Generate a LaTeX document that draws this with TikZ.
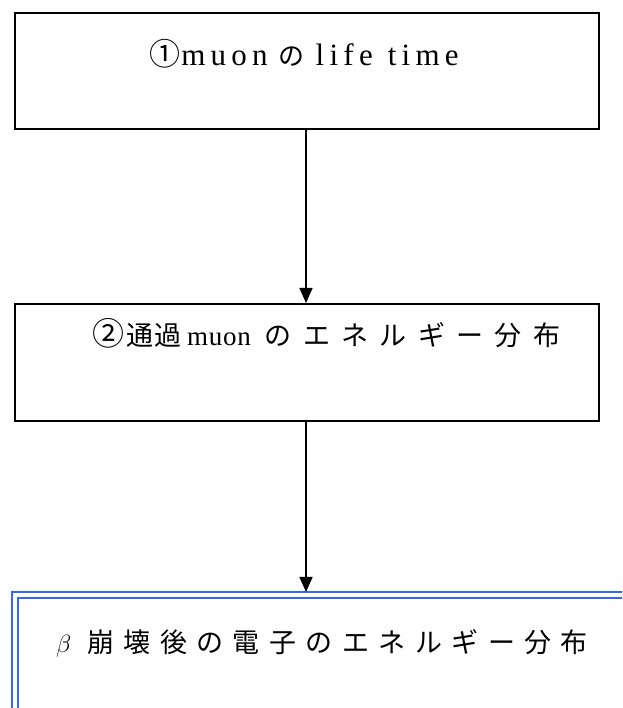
\documentclass[tikz,border=0pt]{standalone}
\usepackage{fontspec}
\setmainfont{Liberation Serif}
\newfontfamily\jp{Noto Sans CJK JP}[LetterSpace=42]
\newfontfamily\jpmid{Noto Sans CJK JP}[LetterSpace=35]
\newfontfamily\jptight{Noto Sans CJK JP}[LetterSpace=5]
\newfontfamily\lat{Liberation Serif}[LetterSpace=17]
\newfontfamily\latn{Liberation Serif}[LetterSpace=3]
\usetikzlibrary{arrows.meta,calc}
\definecolor{boxblue}{RGB}{51,102,255}
\tikzset{
  flowbox/.style={draw=black, line width=1.8pt, minimum width=584pt, minimum height=116pt, inner sep=0pt, anchor=north west},
  finalbox/.style={draw=boxblue, line width=2pt, double=white, double distance=4pt, minimum width=700pt, minimum height=200pt, inner sep=0pt, anchor=north west},
  flowarrow/.style={draw=black, line width=1.6pt, -{Triangle[length=15pt,width=13pt]}},
  boxtext/.style={anchor=base, inner sep=0pt, font=\fontsize{27}{32}\selectfont},
  bigtext/.style={boxtext, font=\fontsize{31}{36}\selectfont},
}
\begin{document}
\begin{tikzpicture}[x=1pt,y=1pt]
\useasboundingbox (0,0) rectangle (622,708);
\clip (0,0) rectangle (622,708);
\node[flowbox] (b1) at (14,696) {};
\node[flowbox, minimum height=117pt] (b2) at (14,405) {};
\node[finalbox] (b3) at (14,113.5) {};
\node[bigtext] (t1) at (304,642) {{\jptight ①}\hspace{1pt}{\lat muon}\hspace{11pt}{\fontsize{26}{30}\selectfont\jptight の}\hspace{11pt}{\lat life\hspace{2pt} time}};
\node[boxtext] (t2) at (326.5,362) {{\fontsize{32}{36}\selectfont\jptight ②}\hspace{2pt}{\jptight 通過}\hspace{5pt}{\latn muon}\hspace{14pt}{\jp のエネルギー分布}};
\node[boxtext] (t3) at (322,55) {{\fontsize{31}{36}\selectfont$\beta$}\hspace{16pt}{\jpmid 崩壊後の電子のエネルギー分布}};
\draw[flowarrow] (b1.south -| 306,0) -- (b2.north -| 306,0);
\draw[flowarrow] (b2.south -| 306,0) -- ($(b3.north -| 306,0)+(0,2.5)$);
\end{tikzpicture}
\end{document}
